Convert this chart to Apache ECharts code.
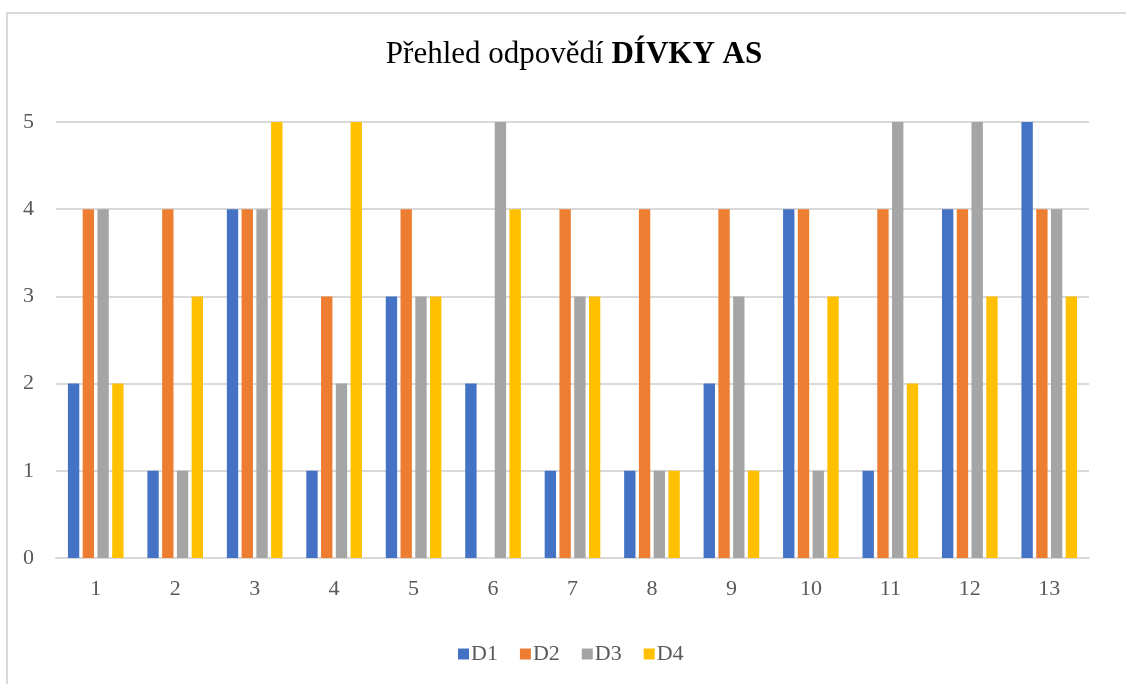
<!DOCTYPE html>
<html>
<head>
<meta charset="utf-8">
<script src="https://cdn.jsdelivr.net/npm/echarts@6/dist/echarts.min.js"></script>
<style>
  html, body { margin: 0; padding: 0; background: #fff; }
  #chart { width: 1126px; height: 684px; }
</style>
</head>
<body>
<div id="chart"></div>
<script>
// Question numbers along the x axis
const categories = ['1', '2', '3', '4', '5', '6', '7', '8', '9', '10', '11', '12', '13'];
// Answers per respondent
const d1 = [2, 1, 4, 1, 3, 2, 1, 1, 2, 4, 1, 4, 5];
const d2 = [4, 4, 4, 3, 4, 0, 4, 4, 4, 4, 4, 4, 4];
const d3 = [4, 1, 4, 2, 3, 5, 3, 1, 3, 1, 5, 5, 4];
const d4 = [2, 3, 5, 5, 3, 4, 3, 1, 1, 3, 2, 3, 3];
const seriesNames = ['D1', 'D2', 'D3', 'D4'];
const seriesData = [d1, d2, d3, d4];
const colors = ['#4472c4', '#ed7d31', '#a5a5a5', '#ffc000'];

const font = '"Liberation Serif", "Times New Roman", serif';
const chart = echarts.init(document.getElementById('chart'));

chart.setOption({
  animation: false,
  color: colors,
  title: {
    text: '{n|Přehled odpovědí }{b|DÍVKY AS}',
    left: 569,
    textAlign: 'center',
    top: 34,
    textStyle: {
      rich: {
        n: { fontFamily: font, fontSize: 31, color: '#000', fontWeight: 'normal' },
        b: { fontFamily: font, fontSize: 31, color: '#000', fontWeight: 'bold' }
      }
    }
  },
  graphic: [{
    type: 'rect',
    shape: { x: 7, y: 13, width: 1200, height: 800 },
    style: { fill: 'none', stroke: '#d9d9d9', lineWidth: 2 },
    silent: true
  }],
  legend: {
    bottom: 14,
    left: 453,
    itemWidth: 11,
    itemHeight: 11,
    itemGap: 22,
    icon: 'rect',
    textStyle: { fontFamily: font, fontSize: 22, color: '#595959', padding: [0, 0, 0, -3] },
    data: seriesNames
  },
  grid: { left: 56, right: 37, top: 122, bottom: 126, containLabel: false },
  xAxis: {
    type: 'category',
    data: categories,
    axisLine: { lineStyle: { color: '#d9d9d9', width: 2 } },
    axisTick: { show: false },
    axisLabel: { fontFamily: font, fontSize: 22, color: '#595959', margin: 20 }
  },
  yAxis: {
    type: 'value',
    min: 0,
    max: 5,
    interval: 1,
    axisLine: { show: false },
    axisTick: { show: false },
    splitLine: { lineStyle: { color: '#d9d9d9', width: 2 } },
    axisLabel: { fontFamily: font, fontSize: 22, color: '#595959', margin: 22 }
  },
  series: seriesNames.map((name, i) => ({
    name: name,
    type: 'bar',
    data: seriesData[i],
    barGap: '30%',
    barCategoryGap: '30%',
    itemStyle: { color: colors[i] }
  }))
});
</script>
</body>
</html>
